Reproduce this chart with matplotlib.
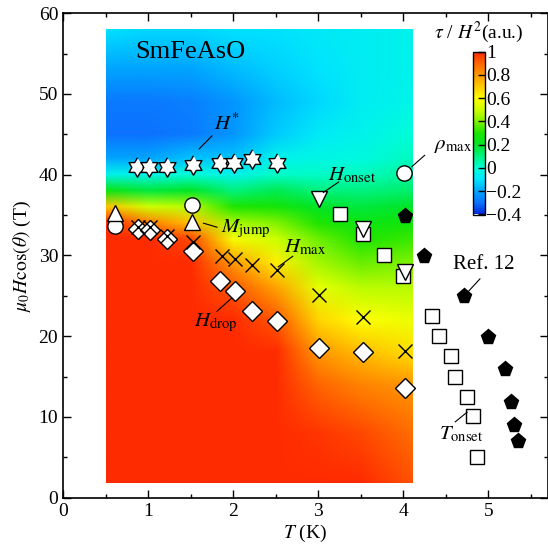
import matplotlib
matplotlib.use('Agg')
import matplotlib.pyplot as plt
import numpy as np
from matplotlib.colors import LinearSegmentedColormap, Normalize
from matplotlib.image import NonUniformImage
from matplotlib.patches import Rectangle

plt.rcParams['font.family'] = 'serif'
plt.rcParams['font.serif'] = ['Liberation Serif', 'DejaVu Serif']
plt.rcParams['mathtext.fontset'] = 'stix'
plt.rcParams['axes.unicode_minus'] = True

# tau/H^2 map on a coarse grid (T columns, H rows)
map_T = [0.5, 1.0, 1.5, 2.0, 2.5, 3.0, 3.5, 4.1]
map_H = [2, 8, 14, 18, 22, 26, 29, 32, 34, 36, 38, 40, 42, 45, 49, 53, 58]
map_val = [
    # T=0.5  1.0   1.5   2.0   2.5   3.0   3.5   4.1
    [1.00, 1.00, 1.00, 1.00, 1.00, 1.00, 1.00, 0.93],   # H=2
    [1.00, 1.00, 1.00, 1.00, 1.00, 0.98, 0.95, 0.88],   # 8
    [1.00, 1.00, 1.00, 1.00, 1.00, 0.90, 0.84, 0.80],   # 14
    [1.00, 1.00, 1.00, 1.00, 1.00, 0.80, 0.73, 0.66],   # 18
    [1.00, 1.00, 1.00, 1.00, 0.92, 0.68, 0.60, 0.56],   # 22
    [1.00, 1.00, 1.00, 0.92, 0.78, 0.55, 0.48, 0.47],   # 26
    [1.00, 1.00, 1.00, 0.80, 0.63, 0.45, 0.38, 0.40],   # 29
    [1.00, 1.00, 0.95, 0.58, 0.50, 0.38, 0.30, 0.33],   # 32
    [1.00, 0.85, 0.72, 0.45, 0.40, 0.30, 0.25, 0.27],   # 34
    [0.72, 0.50, 0.47, 0.30, 0.28, 0.20, 0.17, 0.20],   # 36
    [0.25, 0.17, 0.20, 0.10, 0.15, 0.10, 0.10, 0.12],   # 38
    [-0.05, -0.05, 0.00, -0.05, 0.02, 0.02, 0.03, 0.07],  # 40
    [-0.20, -0.20, -0.15, -0.15, -0.05, -0.03, -0.02, 0.03],  # 42
    [-0.30, -0.30, -0.28, -0.23, -0.14, -0.08, -0.05, 0.00],  # 45
    [-0.28, -0.28, -0.27, -0.23, -0.16, -0.12, -0.07, -0.04],  # 49
    [-0.20, -0.20, -0.20, -0.16, -0.13, -0.10, -0.07, -0.05],  # 53
    [-0.10, -0.12, -0.12, -0.10, -0.10, -0.08, -0.07, -0.05],  # 58
]

# markers
hstar_T = [0.87, 1.01, 1.22, 1.53, 1.84, 2.01, 2.22, 2.52]
hstar_H = [41.0, 41.0, 41.0, 41.2, 41.4, 41.4, 42.0, 41.5]
rho_T = [0.61, 1.52, 4.01]
rho_H = [33.7, 36.3, 40.2]
mjump_T = [0.61, 1.52]
mjump_H = [35.2, 34.1]
hdrop_T = [0.88, 1.02, 1.22, 1.53, 1.85, 2.02, 2.22, 2.52, 3.01, 3.52, 4.02]
hdrop_H = [33.3, 33.2, 32.1, 30.6, 26.8, 25.6, 23.1, 21.9, 18.6, 18.1, 13.6]
hmax_T = [0.88, 1.02, 1.22, 1.53, 1.87, 2.02, 2.22, 2.52, 3.01, 3.52, 4.02]
hmax_H = [33.5, 33.5, 32.4, 31.7, 29.9, 29.6, 28.8, 28.2, 25.1, 22.4, 18.2]
honset_T = [3.01, 3.52, 4.02]
honset_H = [37.0, 33.3, 27.9]
tonset_T = [3.25, 3.52, 3.77, 3.99, 4.34, 4.42, 4.56, 4.61, 4.75, 4.82, 4.87]
tonset_H = [35.1, 32.7, 30.0, 27.4, 22.5, 20.0, 17.5, 15.0, 12.5, 10.1, 5.0]
ref12_T = [4.02, 4.24, 4.71, 4.99, 5.20, 5.26, 5.30, 5.35]
ref12_H = [34.9, 29.9, 25.0, 19.9, 16.0, 11.9, 9.0, 7.0]

cb_ticks = [-0.4, -0.2, 0, 0.2, 0.4, 0.6, 0.8, 1]
cb_labels = ['\u22120.4', '\u22120.2', '0', '0.2', '0.4', '0.6', '0.8', '1']

cmap = LinearSegmentedColormap.from_list('tau', [
    (0.0 / 14, (0.0, 0.15, 0.85)),
    (1.0 / 14, (0.05, 0.45, 1.0)),
    (2.0 / 14, (0.0, 0.65, 1.0)),
    (3.0 / 14, (0.0, 0.9, 1.0)),
    (4.0 / 14, (0.0, 1.0, 0.85)),
    (5.0 / 14, (0.0, 0.95, 0.5)),
    (6.0 / 14, (0.0, 0.9, 0.15)),
    (7.0 / 14, (0.1, 0.9, 0.0)),
    (8.0 / 14, (0.5, 0.95, 0.0)),
    (9.0 / 14, (0.8, 1.0, 0.0)),
    (10.0 / 14, (1.0, 1.0, 0.0)),
    (11.0 / 14, (1.0, 0.8, 0.0)),
    (12.0 / 14, (1.0, 0.6, 0.0)),
    (13.0 / 14, (1.0, 0.4, 0.0)),
    (14.0 / 14, (1.0, 0.17, 0.0)),
])

# six-pointed star (two triangles)
ang = np.deg2rad(np.arange(12) * 30 + 90)
rad = np.where(np.arange(12) % 2 == 0, 1.0, 0.58)
hexagram = list(zip(rad * np.cos(ang), rad * np.sin(ang)))

fig = plt.figure(figsize=(5.48, 5.5), dpi=100)
ax = fig.add_axes([0.115, 0.095, 0.885, 0.881])

im = NonUniformImage(ax, interpolation='bilinear', cmap=cmap,
                     norm=Normalize(vmin=-0.4, vmax=1),
                     extent=(map_T[0], map_T[-1], map_H[0], map_H[-1]))
im.set_data(map_T, map_H, np.array(map_val))
im.set_zorder(1)
ax.add_image(im)
# keep the map inside its measured range
clip = Rectangle((map_T[0], map_H[0]), map_T[-1] - map_T[0], map_H[-1] - map_H[0],
                 transform=ax.transData, facecolor='none', edgecolor='none')
im.set_clip_path(clip)

mk = dict(linestyle='none', markerfacecolor='white', markeredgecolor='black',
          markeredgewidth=1.0, zorder=3)
ax.plot(hstar_T, hstar_H, marker=hexagram, markersize=14, **mk)
ax.plot(rho_T, rho_H, marker='o', markersize=11, **mk)
ax.plot(mjump_T, mjump_H, marker='^', markersize=11, **mk)
ax.plot(tonset_T, tonset_H, marker='s', markersize=10, **mk)
ax.plot(honset_T, honset_H, marker='v', markersize=11, **mk)
ax.plot(hdrop_T, hdrop_H, marker='D', markersize=10.5, **mk)
ax.plot(hmax_T, hmax_H, linestyle='none', marker='x', markersize=10,
        markeredgecolor='black', markeredgewidth=1.0, zorder=4)
ax.plot(ref12_T, ref12_H, linestyle='none', marker='p', markersize=11,
        color='black', zorder=3)

# labels with leader lines
labels = [
    (r'$H^{*}$', (1.60, 43.2), (1.75, 44.8), (1.93, 46.3)),
    (r'$\rho_{\rm max}$', (4.10, 41.0), (4.25, 42.4), (4.58, 43.6)),
    (r'$H_{\rm onset}$', (3.06, 37.8), (3.24, 39.1), (3.40, 39.9)),
    (r'$M_{\rm jump}$', (1.65, 34.0), (1.81, 33.5), (2.15, 33.3)),
    (r'$H_{\rm max}$', (2.53, 28.6), (2.70, 29.9), (2.85, 31.0)),
    (r'$H_{\rm drop}$', (1.98, 24.7), (1.81, 23.1), (1.80, 21.6)),
    ('Ref. 12', (4.76, 25.5), (4.90, 27.1), (4.95, 28.9)),
    (r'$T_{\rm onset}$', (4.75, 10.6), (4.61, 9.4), (4.68, 7.9)),
]
for txt, p0, p1, pt in labels:
    ax.plot([p0[0], p1[0]], [p0[1], p1[1]], color='black', lw=0.8, zorder=5)
    ax.text(pt[0], pt[1], txt, fontsize=15, ha='center', va='center', zorder=5)

ax.text(0.85, 55.2, 'SmFeAsO', fontsize=19, ha='left', va='center', zorder=5)

ax.set_xlim(0, 5.7)
ax.set_ylim(0, 60)
ax.set_xticks([0, 1, 2, 3, 4, 5])
ax.set_xticks(np.arange(0.5, 5.7, 1.0), minor=True)
ax.set_yticks([0, 10, 20, 30, 40, 50, 60])
ax.set_yticks(np.arange(5, 60, 10), minor=True)
ax.tick_params(which='both', direction='in', top=True, right=True, labelsize=14)
ax.tick_params(which='major', length=6, width=1)
ax.tick_params(which='minor', length=3, width=1)
for s in ax.spines.values():
    s.set_linewidth(1.2)
ax.set_xlabel(r'$T$ (K)', fontsize=14, labelpad=2)
ax.set_ylabel(r'$\mu_0 H\cos(\theta)$ (T)', fontsize=14, labelpad=4)

cax = fig.add_axes([0.863, 0.61, 0.022, 0.296])
cb = fig.colorbar(im, cax=cax, ticks=cb_ticks)
cb.ax.set_yticklabels(cb_labels)
cb.ax.tick_params(direction='in', length=5, width=1, labelsize=14, pad=1)
cb.outline.set_linewidth(1.0)
cax.set_title(r'$\tau$ / $H^2$(a.u.)', fontsize=14, pad=10)

plt.savefig('out.png', dpi=100)
